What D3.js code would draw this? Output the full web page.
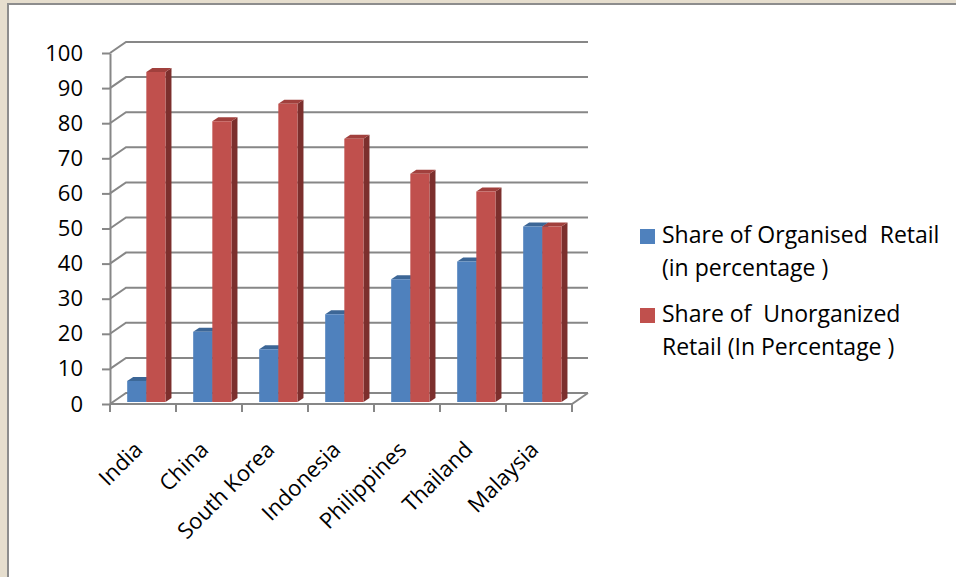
<!DOCTYPE html>
<html>
<head>
<meta charset="utf-8">
<script src="https://cdn.jsdelivr.net/npm/d3@7"></script>
<style>
  body { margin: 0; background: #e6dece; }
  svg { display: block; }
  text { font-family: "Open Sans", Lato, sans-serif; fill: #000; }
</style>
</head>
<body>
<script>
const countries = ["India", "China", "South Korea", "Indonesia", "Philippines", "Thailand", "Malaysia"];
const organised = [6, 20, 15, 25, 35, 40, 50];
const unorganized = [94, 80, 85, 75, 65, 60, 50];
const seriesKeys = ["organised", "unorganized"];
const legendLines = [
    ["Share of Organised  Retail", "(in percentage )"],
    ["Share of  Unorganized", "Retail (In Percentage )"]
];
const yTicks = [0, 10, 20, 30, 40, 50, 60, 70, 80, 90, 100];

const width = 956, height = 577;
const plot = {left: 110, right: 572, top: 53, bottom: 404};
const wall = {dx: 16, dy: -11};      // depth of the back wall
const barShift = {dx: 3, dy: -2};    // bar front face offset from the front plane
const barDepth = {dx: 6, dy: -4};
const gridColor = "#878787";
const fontSize = 22;

const colors = {
    organised:   {front: "#4f81bd", top: "#3c6696", side: "#2f5280"},
    unorganized: {front: "#c0504d", top: "#a1403d", side: "#7c2f2d"}
};

const rows = countries.map((c, i) => ({country: c, organised: organised[i], unorganized: unorganized[i]}));

let svg = d3.select("body").append("svg")
    .attr("width", width)
    .attr("height", height);

// textured frame + white panel
svg.append("rect").attr("width", width).attr("height", height).attr("fill", "#e6dece");
svg.append("rect")
    .attr("x", 8).attr("y", 4)
    .attr("width", width).attr("height", height)
    .attr("fill", "#fff")
    .attr("stroke", "#8d8d8d")
    .attr("stroke-width", 2);

let x0 = d3.scaleBand()
    .domain(countries)
    .range([plot.left, plot.right]);
let bw = x0.bandwidth();
let x1 = d3.scaleBand()
    .domain(seriesKeys)
    .range([bw * 0.215, bw * 0.795]);
let y = d3.scaleLinear()
    .domain([0, 100])
    .range([plot.bottom, plot.top]);

// back wall gridlines + side wall diagonals
let grid = svg.append("g").attr("stroke", gridColor).attr("stroke-width", 2).attr("fill", "none");
grid.selectAll(".grid")
    .data(yTicks)
    .enter().append("path")
    .attr("d", d => "M" + plot.left + "," + y(d) +
        "L" + (plot.left + wall.dx) + "," + (y(d) + wall.dy) +
        "L" + (plot.right + wall.dx) + "," + (y(d) + wall.dy));
// floor edges
grid.append("path")
    .attr("d", "M" + plot.left + "," + y(0) + "L" + plot.right + "," + y(0) +
        "L" + (plot.right + wall.dx) + "," + (y(0) + wall.dy));

// y axis
let yAxis = d3.axisLeft(y).tickValues(yTicks).tickSize(8).tickSizeOuter(0).tickPadding(19);
let yg = svg.append("g")
    .attr("transform", "translate(" + plot.left + ",0)")
    .call(yAxis);
yg.select(".domain").attr("stroke", gridColor).attr("stroke-width", 2);
yg.selectAll(".tick line").attr("stroke", gridColor).attr("stroke-width", 2);
yg.selectAll(".tick text")
    .attr("font-size", fontSize)
    .attr("font-family", "'Open Sans', Lato, sans-serif")
    .attr("fill", "#000");

// x category boundary ticks
svg.append("g").selectAll("line")
    .data(countries.map(c => x0(c)).concat([plot.right]))
    .enter().append("line")
    .attr("x1", d => d).attr("x2", d => d)
    .attr("y1", y(0)).attr("y2", y(0) + 8)
    .attr("stroke", gridColor).attr("stroke-width", 2);

// 3d bars
const face = (x, yTop, yBot, w) => {
    let fx = x + barShift.dx, ft = yTop + barShift.dy, fb = yBot + barShift.dy;
    return {
        front: [[fx, ft], [fx + w, ft], [fx + w, fb], [fx, fb]],
        top: [[fx, ft], [fx + barDepth.dx, ft + barDepth.dy], [fx + w + barDepth.dx, ft + barDepth.dy], [fx + w, ft]],
        side: [[fx + w, ft], [fx + w + barDepth.dx, ft + barDepth.dy], [fx + w + barDepth.dx, fb + barDepth.dy], [fx + w, fb]]
    };
};
const pts = p => p.map(q => q.join(",")).join(" ");

let bars = [];
rows.forEach(r => seriesKeys.forEach(k => bars.push({country: r.country, key: k, value: r[k]})));

svg.append("g").selectAll("g")
    .data(bars)
    .enter().append("g")
    .each(function(d) {
        let f = face(x0(d.country) + x1(d.key), y(d.value), y(0), x1.bandwidth());
        let g = d3.select(this);
        g.append("polygon").attr("points", pts(f.side)).attr("fill", colors[d.key].side);
        g.append("polygon").attr("points", pts(f.top)).attr("fill", colors[d.key].top);
        g.append("polygon").attr("points", pts(f.front)).attr("fill", colors[d.key].front);
    });

// category labels
svg.append("g").selectAll("text")
    .data(countries)
    .enter().append("text")
    .attr("text-anchor", "end")
    .attr("font-size", fontSize)
    .attr("transform", d => "translate(" + (x0(d) + bw / 2 + 1) + "," + (y(0) + 47) + ") rotate(-45)")
    .text(d => d);

// legend
let legend = svg.append("g").selectAll("g")
    .data(seriesKeys)
    .enter().append("g")
    .attr("transform", (d, i) => "translate(640," + (229 + i * 79) + ")");
legend.append("rect")
    .attr("width", 15).attr("height", 15)
    .attr("fill", d => colors[d].front);
legend.append("text")
    .attr("font-size", 23)
    .style("white-space", "pre")
    .selectAll("tspan")
    .data((d, i) => legendLines[i])
    .enter().append("tspan")
    .attr("x", 22)
    .attr("y", (d, j) => 14 + j * 33)
    .text(d => d);
</script>
</body>
</html>
